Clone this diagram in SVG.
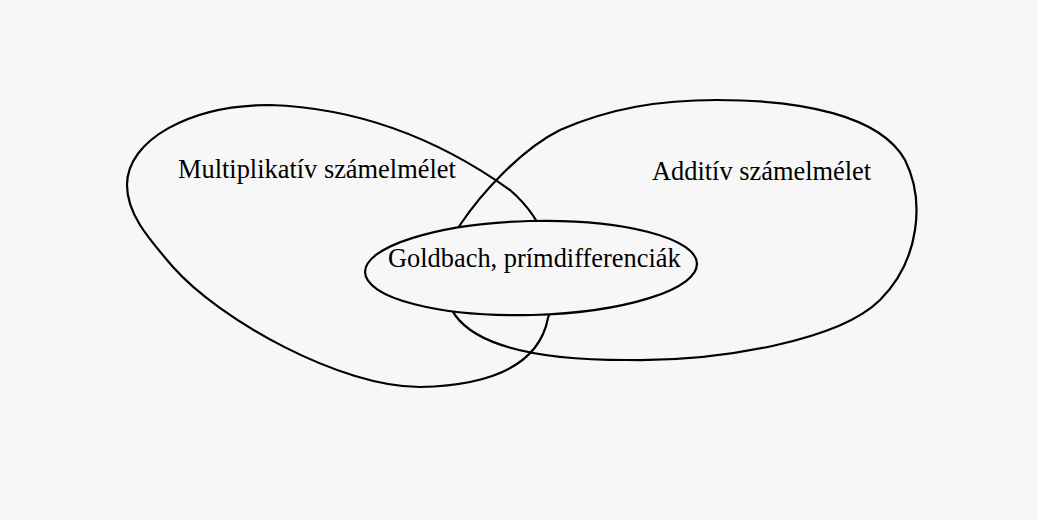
<svg xmlns="http://www.w3.org/2000/svg" width="1037" height="520" viewBox="0 0 1037 520">
<style>
.blob{fill:none;stroke:#000;stroke-width:2.2;stroke-linejoin:round}
.inner{fill:#f7f7f7;stroke:#000;stroke-width:2.2}
.lbl{font-family:"Liberation Serif","Times New Roman",serif;font-size:26.4px;fill:#000}
</style>
<rect width="1037" height="520" fill="#f7f7f7"/>
<g id="connectors"></g>
<g id="multiplikativ">
<path class="blob" d="M 270,105 C 360,108 440,140 510,190 C 545,220 565,270 548,318 C 540,360 500,385 420,387 C 340,387 220,320 173,267 C 150,240 127,215 127,185 C 127,140 190,105 270,105 Z"/>
<text class="lbl" x="178" y="178">Multiplikatív számelmélet</text>
</g>
<g id="additiv">
<path class="blob" d="M 717,100 C 800,100 880,115 905,160 C 925,200 920,260 880,300 C 840,340 720,362 627,360 C 550,360 480,350 455,315 C 440,295 445,250 460,225 C 480,195 520,150 560,130 C 610,108 660,100 717,100 Z"/>
<text class="lbl" x="652" y="180">Additív számelmélet</text>
</g>
<g id="goldbach">
<ellipse class="inner" cx="531" cy="268" rx="166" ry="47" transform="rotate(-1.5 531 268)"/>
<text class="lbl" x="388" y="267">Goldbach, prímdifferenciák</text>
</g>
</svg>
